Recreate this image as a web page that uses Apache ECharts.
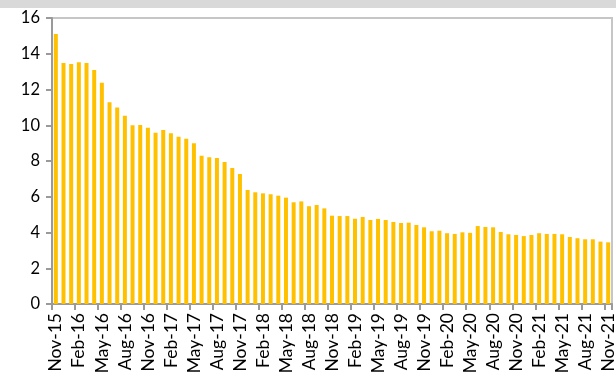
<!DOCTYPE html>
<html>
<head>
<meta charset="utf-8">
<script src="https://cdn.jsdelivr.net/npm/echarts@6/dist/echarts.min.js"></script>
<style>
  html, body { margin: 0; padding: 0; background: #ffffff; }
  #chart { width: 616px; height: 374px; }
</style>
</head>
<body>
<div id="chart"></div>
<script>
// Monthly categories, Nov-15 through Nov-21
const months = [
  'Nov-15','Dec-15','Jan-16','Feb-16','Mar-16','Apr-16','May-16','Jun-16','Jul-16','Aug-16','Sep-16','Oct-16',
  'Nov-16','Dec-16','Jan-17','Feb-17','Mar-17','Apr-17','May-17','Jun-17','Jul-17','Aug-17','Sep-17','Oct-17',
  'Nov-17','Dec-17','Jan-18','Feb-18','Mar-18','Apr-18','May-18','Jun-18','Jul-18','Aug-18','Sep-18','Oct-18',
  'Nov-18','Dec-18','Jan-19','Feb-19','Mar-19','Apr-19','May-19','Jun-19','Jul-19','Aug-19','Sep-19','Oct-19',
  'Nov-19','Dec-19','Jan-20','Feb-20','Mar-20','Apr-20','May-20','Jun-20','Jul-20','Aug-20','Sep-20','Oct-20',
  'Nov-20','Dec-20','Jan-21','Feb-21','Mar-21','Apr-21','May-21','Jun-21','Jul-21','Aug-21','Sep-21','Oct-21',
  'Nov-21'
];

// Monthly values
const values = [
  15.1, 13.48, 13.43, 13.52, 13.48, 13.09, 12.38, 11.28, 11.0, 10.53, 10.0, 10.01,
  9.86, 9.58, 9.73, 9.55, 9.35, 9.25, 9.0, 8.3, 8.21, 8.17, 7.94, 7.61,
  7.27, 6.38, 6.25, 6.19, 6.14, 6.06, 5.95, 5.69, 5.74, 5.47, 5.54, 5.35,
  4.94, 4.92, 4.92, 4.77, 4.87, 4.7, 4.76, 4.7, 4.59, 4.53, 4.55, 4.42,
  4.29, 4.07, 4.1, 3.96, 3.92, 4.01, 3.98, 4.36, 4.31, 4.29, 4.03, 3.9,
  3.86, 3.8, 3.86, 3.96, 3.92, 3.92, 3.9, 3.75, 3.68, 3.62, 3.62, 3.49,
  3.45
];

// Value-axis ticks
const yTicks = [0, 2, 4, 6, 8, 10, 12, 14, 16];

const chart = echarts.init(document.getElementById('chart'), null, { renderer: 'canvas' });

const font = 'Lato, "Open Sans", sans-serif';

chart.setOption({
  animation: false,
  backgroundColor: '#ffffff',
  graphic: [
    {
      type: 'rect',
      left: 0, top: 0,
      shape: { width: 616, height: 8 },
      style: { fill: '#d9d9d9' },
      silent: true
    }
  ],
  grid: {
    left: 52, right: 4, top: 18, bottom: 70,
    outerBoundsMode: 'none',
    containLabel: false,
    show: true,
    borderColor: '#c6c6c6',
    borderWidth: 2,
    backgroundColor: 'transparent'
  },
  xAxis: {
    type: 'category',
    data: months,
    boundaryGap: true,
    axisLine: { show: true, lineStyle: { color: '#9a9a9a', width: 2 } },
    axisTick: { show: true, interval: 2, length: 6, lineStyle: { color: '#9a9a9a', width: 2 } },
    axisLabel: {
      interval: 2,
      rotate: 90,
      margin: 9,
      color: '#000000',
      fontFamily: font,
      fontSize: 17.5
    },
    splitLine: { show: false }
  },
  yAxis: {
    type: 'value',
    min: yTicks[0],
    max: yTicks[yTicks.length - 1],
    interval: 2,
    axisLine: { show: true, lineStyle: { color: '#9a9a9a', width: 2 } },
    axisTick: { show: true, length: 6, lineStyle: { color: '#9a9a9a', width: 2 } },
    axisLabel: {
      margin: 12,
      color: '#000000',
      fontFamily: font,
      fontSize: 16.5
    },
    splitLine: { show: false }
  },
  series: [
    {
      type: 'bar',
      data: values,
      barWidth: '52%',
      itemStyle: { color: '#FFC000' },
      silent: true
    }
  ]
});
</script>
</body>
</html>
